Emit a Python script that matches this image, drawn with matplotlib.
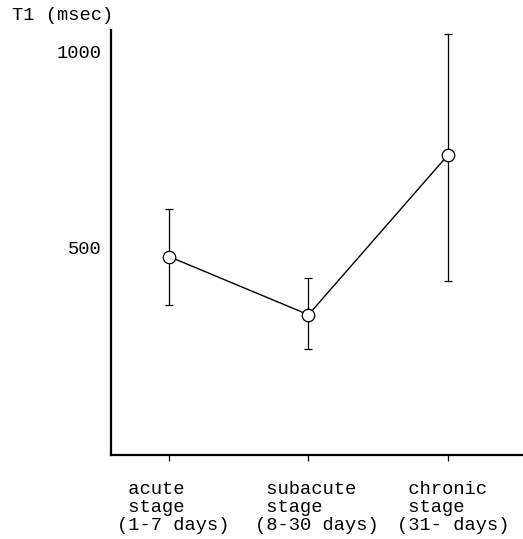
import matplotlib
matplotlib.use("Agg")
import matplotlib.pyplot as plt
from matplotlib.transforms import blended_transform_factory

# T1 relaxation time by stage
stages = [" acute\n stage\n(1-7 days)", " subacute\n stage\n(8-30 days)", " chronic\n stage\n(31- days)"]
t1_mean = [476, 327, 736]
t1_upper = [597, 420, 1046]
t1_lower = [353, 240, 414]
y_ticks = [500, 1000]

mono = "Liberation Mono"
fs = 13.5

fig = plt.figure(figsize=(5.23, 5.39), dpi=100)
ax = fig.add_axes([111 / 523, 1 - 455 / 539, 1 - 111 / 523, (455 - 30) / 539])

x = list(range(len(stages)))
err_lo = [m - lo for m, lo in zip(t1_mean, t1_lower)]
err_hi = [hi - m for m, hi in zip(t1_mean, t1_upper)]

ax.errorbar(x, t1_mean, yerr=[err_lo, err_hi], fmt="none", ecolor="black",
            elinewidth=0.9, capsize=3.2, capthick=0.9, zorder=2)
ax.plot(x, t1_mean, color="black", linewidth=1.0, marker="o", markersize=9,
        markerfacecolor="white", markeredgecolor="black", markeredgewidth=0.9,
        zorder=3)

ax.set_xlim(-0.416, 2.538)
ax.set_ylim(-32, 1056)

for side in ("top", "right"):
    ax.spines[side].set_visible(False)
ax.spines["left"].set_linewidth(1.6)
ax.spines["bottom"].set_linewidth(1.6)

ax.set_yticks(y_ticks)
ax.set_yticklabels([str(v) for v in y_ticks], fontfamily=mono, fontsize=fs)
ax.tick_params(axis="y", length=0, pad=7)

ax.set_xticks(x)
ax.set_xticklabels([])
ax.tick_params(axis="x", direction="out", length=4, width=0.9)

# stage labels below the axis, left-aligned blocks
offsets = [-0.373, -0.38, -0.365]
trans = blended_transform_factory(ax.transData, ax.transAxes)
for xi, lab, off in zip(x, stages, offsets):
    ax.text(xi + off, -0.062, lab, transform=trans, ha="left", va="top",
            fontfamily=mono, fontsize=fs, linespacing=1.06, multialignment="left")

fig.text(12 / 523, 1 - 15 / 539, "T1 (msec)", ha="left", va="center",
         fontfamily=mono, fontsize=fs)

fig.savefig("out.png", dpi=100)
